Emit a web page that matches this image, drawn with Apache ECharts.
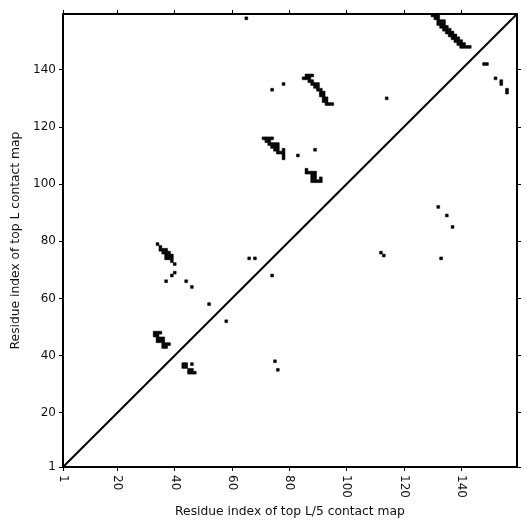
<!DOCTYPE html>
<html>
<head>
<meta charset="utf-8">
<script src="https://cdn.jsdelivr.net/npm/echarts@6/dist/echarts.min.js"></script>
<style>
  html, body { margin: 0; padding: 0; background: #fff; }
  #chart { width: 531px; height: 531px; }
</style>
</head>
<body>
<div id="chart"></div>
<script>
// tick positions
var tickValues = [1, 20, 40, 60, 80, 100, 120, 140];
var axisMin = 1;
var axisMax = 159.5;

// contact cells [residue i, residue j]
var clusterA = [
  [86,138],[87,138],[88,138],
  [85,137],[86,137],[87,137],
  [87,136],[88,136],
  [88,135],[89,135],[90,135],
  [89,134],[90,134],
  [90,133],[91,133],
  [91,132],[92,132],
  [91,131],[92,131],
  [92,130],[93,130],
  [92,129],[93,129],
  [93,128],[94,128],[95,128]
];
var clusterB = [
  [130,159],[131,159],[132,159],
  [131,158],[132,158],
  [132,157],[133,157],[134,157],
  [132,156],[133,156],[134,156],
  [133,155],[134,155],[135,155],
  [134,154],[135,154],[136,154],
  [135,153],[136,153],[137,153],
  [136,152],[137,152],[138,152],
  [137,151],[138,151],[139,151],
  [138,150],[139,150],[140,150],
  [139,149],[140,149],[141,149],
  [140,148],[141,148],[142,148],[143,148]
];
var clusterC = [
  [71,116],[72,116],[73,116],[74,116],
  [72,115],[73,115],
  [73,114],[74,114],[75,114],[76,114],
  [74,113],[75,113],[76,113],
  [75,112],[76,112],[78,112],
  [76,111],[77,111],[78,111],
  [78,110],[78,109]
];
var clusterD = [
  [86,105],
  [86,104],[87,104],[88,104],[89,104],
  [88,103],[89,103],
  [88,102],[89,102],[91,102],
  [88,101],[89,101],[90,101],[91,101]
];
var clusterE = [
  [34,79],[35,78],
  [35,77],[36,77],[37,77],
  [36,76],[37,76],[38,76],
  [37,75],[38,75],[39,75],
  [37,74],[38,74],[39,74],
  [39,73],[40,72]
];
var clusterF = [
  [33,48],[34,48],[35,48],
  [33,47],[34,47],
  [34,46],[35,46],[36,46],
  [34,45],[35,45],[36,45],
  [36,44],[37,44],[38,44],
  [36,43],[37,43]
];
var clusterG = [
  [43,37],[44,37],[46,37],
  [43,36],[44,36],
  [45,35],[46,35],
  [45,34],[46,34],[47,34]
];
var singles = [
  [65,158],[74,133],[78,135],[114,130],
  [148,142],[149,142],[152,137],[154,136],[154,135],[156,133],[156,132],
  [83,110],[89,112],
  [66,74],[68,74],[74,68],
  [40,69],[39,68],[37,66],[44,66],[46,64],[52,58],[58,52],
  [75,38],[76,35],
  [132,92],[135,89],[137,85],[133,74],[112,76],[113,75]
];

var contacts = [].concat(clusterA, clusterB, clusterC, clusterD, clusterE, clusterF, clusterG, singles);
var diagonal = [[axisMin, axisMin], [axisMax, axisMax]];

var font = 'DejaVu Sans';
var myChart = echarts.init(document.getElementById('chart'));

function axisBase(pos, showLabel) {
  return {
    type: 'value',
    position: pos,
    min: axisMin,
    max: axisMax,
    axisLine: {show: true, onZero: false, lineStyle: {color: '#000', width: 2}},
    axisTick: {show: true, length: 4, customValues: tickValues, lineStyle: {color: '#000', width: 1}},
    axisLabel: {show: showLabel, customValues: tickValues, color: '#111', fontFamily: font, fontSize: 12},
    splitLine: {show: false}
  };
}

var xMain = axisBase('bottom', true);
xMain.axisLabel.rotate = -90;
xMain.axisLabel.margin = 8;
xMain.name = 'Residue index of top L/5 contact map';
xMain.nameLocation = 'middle';
xMain.nameGap = 38;
xMain.nameTextStyle = {color: '#111', fontFamily: font, fontSize: 12.3};

var yMain = axisBase('left', true);
yMain.axisLabel.margin = 7;
yMain.name = 'Residue index of top L contact map';
yMain.nameLocation = 'middle';
yMain.nameGap = 34;
yMain.nameTextStyle = {color: '#111', fontFamily: font, fontSize: 12.3};

var xTop = axisBase('top', false);
var yRight = axisBase('right', false);

myChart.setOption({
  animation: false,
  backgroundColor: '#fff',
  grid: {left: 63, right: 14, top: 14, bottom: 64},
  xAxis: [xMain, xTop],
  yAxis: [yMain, yRight],
  series: [
    {
      type: 'custom',
      clip: true,
      data: contacts,
      renderItem: function (params, api) {
        var x = api.value(0);
        var y = api.value(1);
        var p0 = api.coord([x - 0.5, y + 0.5]);
        var p1 = api.coord([x + 0.5, y - 0.5]);
        return {
          type: 'rect',
          shape: {x: p0[0], y: p0[1], width: p1[0] - p0[0], height: p1[1] - p0[1]},
          style: {fill: '#000', stroke: '#000', lineWidth: 0.5}
        };
      }
    },
    {
      type: 'line',
      data: diagonal,
      symbol: 'none',
      lineStyle: {color: '#000', width: 2}
    }
  ]
});
</script>
</body>
</html>
